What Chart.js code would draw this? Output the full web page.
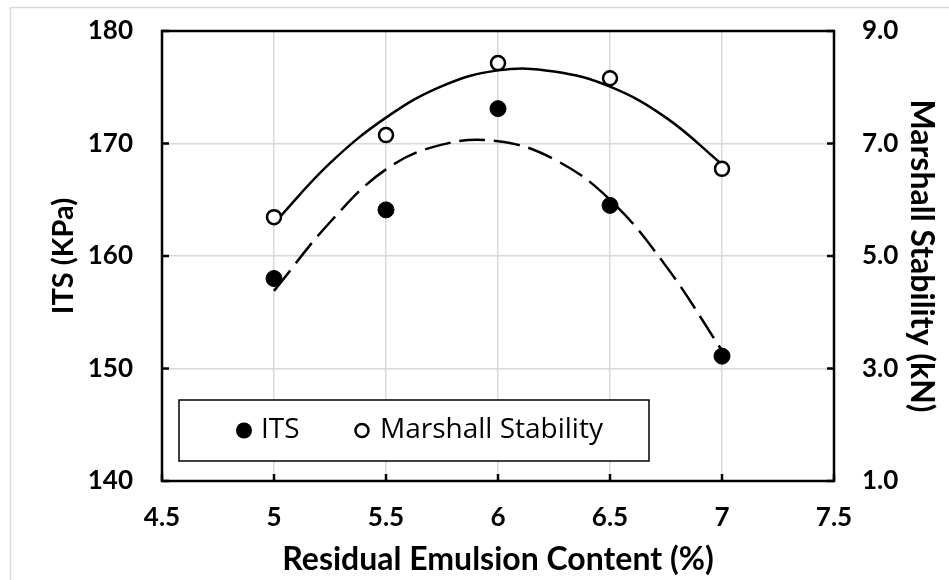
<!DOCTYPE html>
<html>
<head>
<meta charset="utf-8">
<script src="https://cdn.jsdelivr.net/npm/chart.js@4.4.1/dist/chart.umd.min.js"></script>
<style>
  html, body { margin: 0; padding: 0; background: #fff; }
  #wrap { width: 949px; height: 580px; position: relative; }
</style>
</head>
<body>
<div id="wrap"><canvas id="chart" width="949" height="580"></canvas></div>
<script>
// values
const content = [5, 5.5, 6, 6.5, 7];
const its = [158.0, 164.1, 173.1, 164.5, 151.1];
const marshall = [5.69, 7.15, 8.43, 8.16, 6.55];

// trend lines
const trendX = [5, 5.25, 5.5, 5.75, 6, 6.25, 6.5, 6.75, 7];
const itsTrend = [156.9, 163.0, 167.7, 169.9, 170.2, 168.6, 165.0, 159.1, 151.6];
const marshallTrend = [5.58, 6.65, 7.46, 8.02, 8.30, 8.28, 8.01, 7.46, 6.63];

const xTicks = [4.5, 5, 5.5, 6, 6.5, 7, 7.5];
const leftTicks = [140, 150, 160, 170, 180];
const rightTicks = ['1.0', '3.0', '5.0', '7.0', '9.0'];

function toPoints(xs, ys) {
    return xs.map((x, i) => ({ x: x, y: ys[i] }));
}

const FONT = 'Lato, "Open Sans", sans-serif';
const LEGEND_FONT = '"Open Sans", Lato, sans-serif';

//draws light frame, box around plot, inner ticks and the legend
const decorPlugin = {
    id: 'decor',
    beforeDraw(chart) {
        const ctx = chart.ctx;
        ctx.save();
        ctx.strokeStyle = '#d9d9d9';
        ctx.lineWidth = 1.5;
        ctx.strokeRect(10.5, 7.5, 1200, 1200);
        ctx.restore();
    },
    afterDatasetsDraw(chart) {
        const ctx = chart.ctx;
        const a = chart.chartArea;
        const x = chart.scales.x, y = chart.scales.y;
        ctx.save();
        ctx.strokeStyle = '#000';
        ctx.lineWidth = 2.5;
        ctx.beginPath();
        xTicks.forEach(v => {
            const px = x.getPixelForValue(v);
            ctx.moveTo(px, a.bottom);
            ctx.lineTo(px, a.bottom - 7);
        });
        leftTicks.forEach(v => {
            const py = y.getPixelForValue(v);
            ctx.moveTo(a.left, py);
            ctx.lineTo(a.left + 7, py);
            ctx.moveTo(a.right, py);
            ctx.lineTo(a.right - 7, py);
        });
        ctx.stroke();
        ctx.strokeRect(a.left, a.top, a.right - a.left, a.bottom - a.top);

        // legend box inside the plot
        const bx = 179, by = 400, bw = 470, bh = 61;
        ctx.fillStyle = '#fff';
        ctx.fillRect(bx, by, bw, bh);
        ctx.lineWidth = 1.5;
        ctx.strokeStyle = '#000';
        ctx.strokeRect(bx, by, bw, bh);
        const cy = by + bh / 2;
        ctx.fillStyle = '#000';
        ctx.beginPath();
        ctx.arc(244, cy, 8, 0, Math.PI * 2);
        ctx.fill();
        ctx.beginPath();
        ctx.lineWidth = 2.5;
        ctx.arc(362, cy, 6.5, 0, Math.PI * 2);
        ctx.stroke();
        ctx.font = '28px ' + LEGEND_FONT;
        ctx.textBaseline = 'middle';
        ctx.fillStyle = '#000';
        ctx.fillText(chart.data.datasets[0].label, 261, cy);
        ctx.fillText(chart.data.datasets[1].label, 380, cy);
        ctx.restore();
    }
};

// keep the plot box where the picture has it
function noOverflowY(s, w) {
    s.width = w;
    s.paddingTop = 0;
    s.paddingBottom = 0;
}

const ctx = document.getElementById('chart').getContext('2d');
const chart = new Chart(ctx, {
    type: 'scatter',
    data: {
        datasets: [{
            label: 'ITS',
            data: toPoints(content, its),
            yAxisID: 'y',
            pointRadius: 8,
            pointBackgroundColor: '#000',
            pointBorderColor: '#000',
            pointBorderWidth: 1,
            order: 0
        }, {
            label: 'Marshall Stability',
            data: toPoints(content, marshall),
            yAxisID: 'y1',
            pointRadius: 7,
            pointBackgroundColor: '#fff',
            pointBorderColor: '#000',
            pointBorderWidth: 2.5,
            order: 0
        }, {
            label: 'ITS trend',
            data: toPoints(trendX, itsTrend),
            yAxisID: 'y',
            showLine: true,
            pointRadius: 0,
            borderColor: '#000',
            borderWidth: 2.5,
            borderDash: [26, 9],
            tension: 0.4,
            order: 1
        }, {
            label: 'Marshall trend',
            data: toPoints(trendX, marshallTrend),
            yAxisID: 'y1',
            showLine: true,
            pointRadius: 0,
            borderColor: '#000',
            borderWidth: 2.5,
            tension: 0.4,
            order: 1
        }]
    },
    options: {
        responsive: false,
        animation: false,
        layout: { padding: { top: 31, left: 0, right: 0, bottom: 0 } },
        plugins: {
            legend: { display: false },
            tooltip: { enabled: false }
        },
        scales: {
            x: {
                type: 'linear',
                min: 4.5, max: 7.5,
                afterBuildTicks: s => { s.ticks = xTicks.map(v => ({ value: v })); },
                afterFit: s => { s.height = 99; s.paddingLeft = 0; s.paddingRight = 0; },
                grid: { color: '#d9d9d9', lineWidth: 1.5, drawTicks: false },
                border: { display: false },
                ticks: {
                    color: '#000', padding: 21,
                    font: { family: FONT, size: 26, weight: 'bold' },
                    callback: v => String(v)
                },
                title: {
                    display: true,
                    text: 'Residual Emulsion Content (%)',
                    color: '#000',
                    font: { family: FONT, size: 32, weight: 'bold' },
                    padding: { top: 0, bottom: 1 }
                }
            },
            y: {
                position: 'left',
                min: 140, max: 180,
                afterBuildTicks: s => { s.ticks = leftTicks.map(v => ({ value: v })); },
                afterFit: s => noOverflowY(s, 162),
                grid: { color: '#d9d9d9', lineWidth: 1.5, drawTicks: false },
                border: { display: false },
                ticks: { color: '#000', padding: 29, font: { family: FONT, size: 26, weight: 'bold' } },
                title: {
                    display: true,
                    text: 'ITS (KPa)',
                    color: '#000',
                    font: { family: FONT, size: 29, weight: 'bold' },
                    padding: { top: 46, bottom: 0 }
                }
            },
            y1: {
                position: 'right',
                min: 1, max: 9,
                afterBuildTicks: s => { s.ticks = rightTicks.map(v => ({ value: parseFloat(v) })); },
                afterFit: s => noOverflowY(s, 115),
                grid: { display: false, drawTicks: false },
                border: { display: false },
                ticks: {
                    color: '#000', padding: 28,
                    font: { family: FONT, size: 26, weight: 'bold' },
                    callback: v => v.toFixed(1)
                },
                title: {
                    display: true,
                    text: 'Marshall Stability (kN)',
                    color: '#000',
                    font: { family: FONT, size: 32, weight: 'bold' },
                    padding: { top: 8, bottom: 0 }
                }
            }
        }
    },
    plugins: [decorPlugin]
});
</script>
</body>
</html>
